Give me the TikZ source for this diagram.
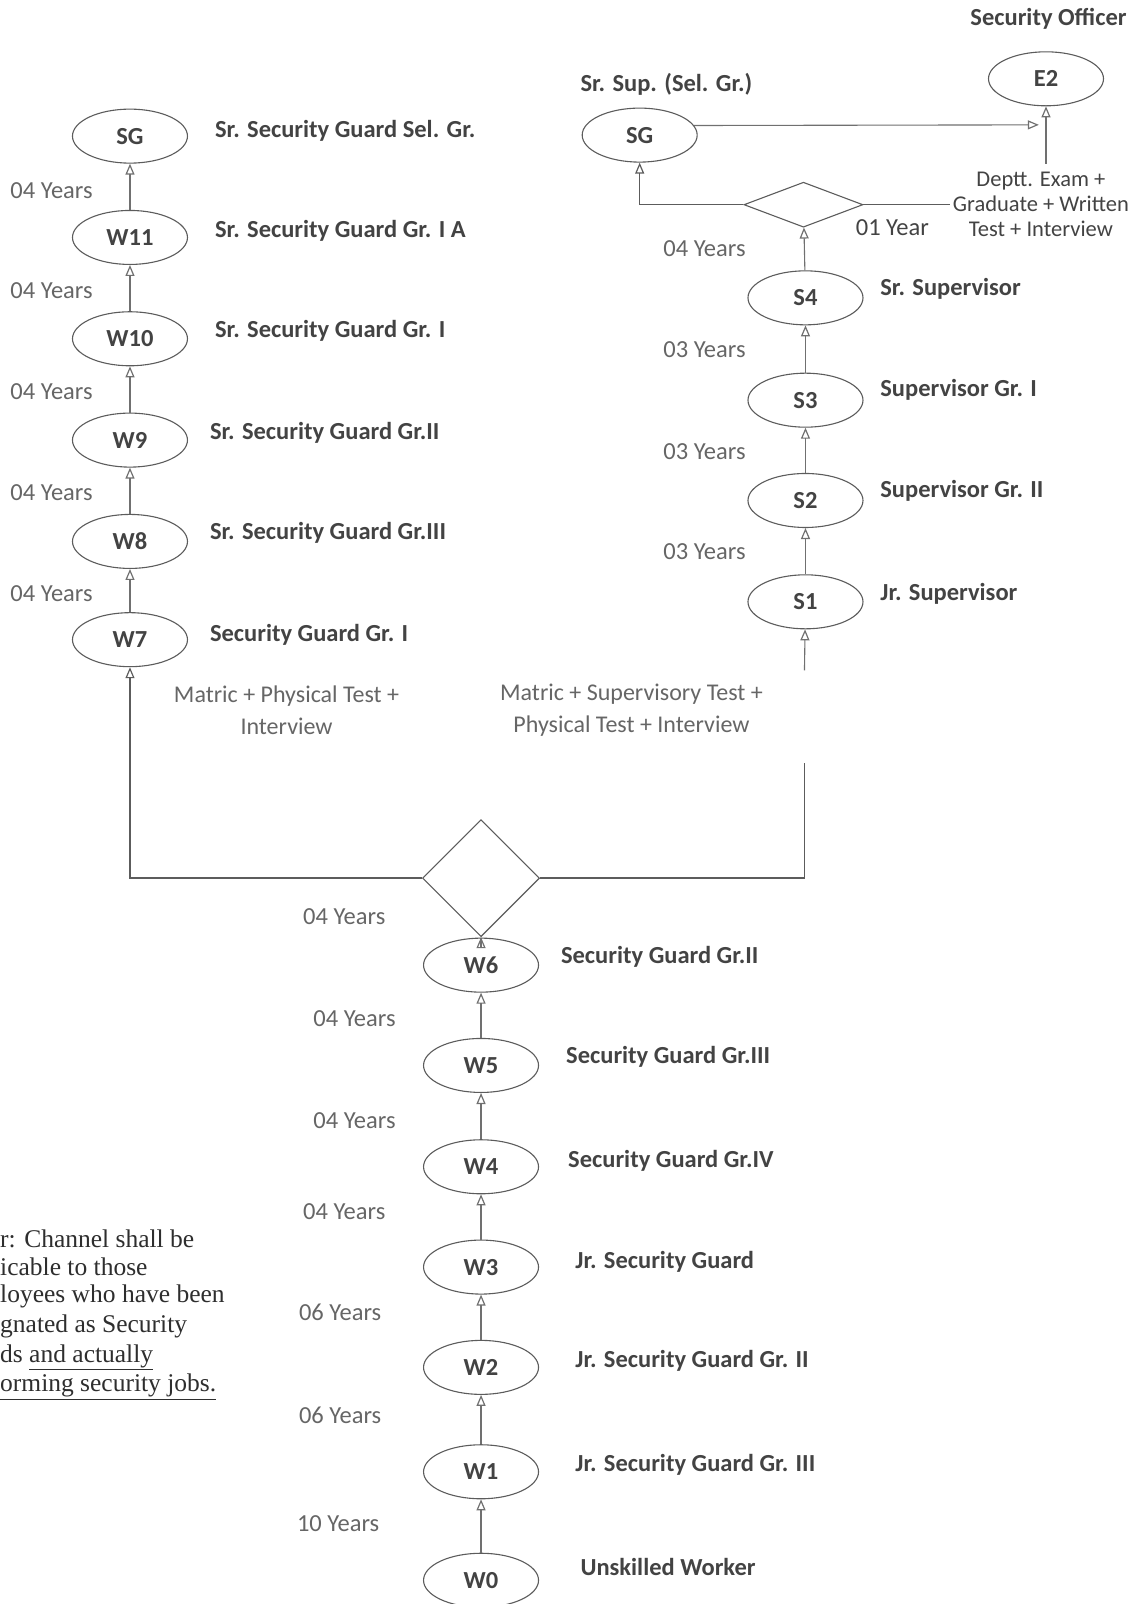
\documentclass[tikz,border=0pt]{standalone}
\usepackage{fontspec}
\setmainfont{Carlito}
\newfontfamily\notefont{Liberation Serif}
\usetikzlibrary{shapes.geometric,arrows.meta}
\definecolor{lab}{HTML}{434343}
\definecolor{yrs}{HTML}{666666}
\definecolor{lin}{HTML}{707070}
\definecolor{edge}{HTML}{5C5C5C}
\definecolor{notec}{HTML}{2E2E2E}
\begin{document}
\begin{tikzpicture}[x=1.0235pt,y=-1.0235pt,
  stage/.style={ellipse, draw=edge, line width=1.1pt, minimum width=115pt, minimum height=54pt, inner sep=0pt, font=\bfseries\fontsize{24.5}{27}\selectfont, text=lab},
  rank/.style={anchor=west, inner sep=0pt, font=\bfseries\fontsize{24.5}{28}\selectfont, text=lab},
  yrlab/.style={anchor=west, inner sep=0pt, font=\fontsize{24.5}{28}\selectfont, text=yrs},
  qual/.style={align=center, inner sep=0pt, font=\fontsize{24}{32}\selectfont, text=yrs},
  dmd/.style={diamond, draw=edge, line width=1.1pt, inner sep=0pt},
  tip/.style={-{Triangle[open,length=11pt,width=9pt,line width=1.2pt]}},
  conn/.style={draw=lin, line width=1.1pt, tip},
  plain/.style={draw=edge, line width=1.4pt},
  noteline/.style={anchor=west, inner sep=0pt, font=\notefont\fontsize{25.5}{30}\selectfont, text=notec}]
\path[use as bounding box, fill=white] (0,0) rectangle (1116.8,1567.2);

% ---------- left column ----------
\node[stage] (SGL) at (127,133) {SG};
\node[stage] (W11) at (127,232) {W11};
\node[stage] (W10) at (127,331) {W10};
\node[stage] (W9) at (127,430) {W9};
\node[stage] (W8) at (127,529) {W8};
\node[stage] (W7) at (127,625) {W7};

\node[rank] (tSGL) at (210,128) {Sr. Security Guard Sel. Gr.};
\node[rank] (tW11) at (210,226) {Sr. Security Guard Gr. I A};
\node[rank] (tW10) at (210,323) {Sr. Security Guard Gr. I};
\node[rank] (tW9) at (205,423) {Sr. Security Guard Gr.II};
\node[rank] (tW8) at (205,521) {Sr. Security Guard Gr.III};
\node[rank] (tW7) at (205,620) {Security Guard Gr. I};

\node[yrlab] (yL1) at (10,186) {04 Years};
\node[yrlab] (yL2) at (10,284) {04 Years};
\node[yrlab] (yL3) at (10,383) {04 Years};
\node[yrlab] (yL4) at (10,481) {04 Years};
\node[yrlab] (yL5) at (10,580) {04 Years};

\draw[conn] (W11) -- (SGL);
\draw[conn] (W10) -- (W11);
\draw[conn] (W9) -- (W10);
\draw[conn] (W8) -- (W9);
\draw[conn] (W7) -- (W8);

% ---------- right column ----------
\node[stage] (S4) at (787,291) {S4};
\node[stage] (S3) at (787,391) {S3};
\node[stage] (S2) at (787,489) {S2};
\node[stage] (S1) at (787,588) {S1};

\node[rank] (tS4) at (860,282) {Sr. Supervisor};
\node[rank] (tS3) at (860,381) {Supervisor Gr. I};
\node[rank] (tS2) at (860,480) {Supervisor Gr. II};
\node[rank] (tS1) at (860,580) {Jr. Supervisor};

\node[yrlab] (yR4) at (648,243) {04 Years};
\node[yrlab] (yR3) at (648,342) {03 Years};
\node[yrlab] (yR2) at (648,441) {03 Years};
\node[yrlab] (yR1) at (648,539) {03 Years};

\draw[conn] (S3) -- (S4);
\draw[conn] (S2) -- (S3);
\draw[conn] (S1) -- (S2);

% ---------- top ----------
\node[stage] (SGR) at (625,132) {SG};
\node[stage] (E2) at (1022,77) {E2};
\node[rank] (tSGR) at (567,82) {Sr. Sup. (Sel. Gr.)};
\node[rank] (tE2) at (948,18) {Security Officer};
\node[dmd, minimum width=119pt, minimum height=45pt] (D2) at (785,200) {};
\node[qual, anchor=north, font=\fontsize{22.5}{25}\selectfont, text=lab] (dept) at (1017,168) {Deptt. Exam +\\Graduate + Written\\Test + Interview};
\node[yrlab, text=lab] (y01) at (836,222) {01 Year};

\coordinate (eh) at (1015,122);
\coordinate (ev) at (1022,160);
\coordinate (dEnd) at (928,200);
\draw[conn] (S4) -- (D2);
\draw[plain, tip] (D2.west) -| (SGR.south);
\draw[plain] (D2.east) -- (dEnd);
\draw[conn] (SGR.10) -- (eh);
\draw[conn] (ev) -- (E2.south);

% ---------- junction ----------
\node[dmd, minimum width=117pt, minimum height=117pt] (D1) at (470,858) {};
\node[qual] (qL) at (280,694) {Matric + Physical Test +\\Interview};
\node[qual] (qR) at (617,694) {Matric + Supervisory Test +\\Physical Test + Interview};
\coordinate (rA) at (786,745);
\coordinate (rB) at (786,655);
\draw[plain, tip] (D1.west) -| (W7.south);
\draw[plain] (D1.east) -| (rA);
\draw[conn] (rB) -- (S1);

% ---------- bottom chain ----------
\node[stage] (W6) at (470,943) {W6};
\node[stage] (W5) at (470,1041) {W5};
\node[stage] (W4) at (470,1140) {W4};
\node[stage] (W3) at (470,1238) {W3};
\node[stage] (W2) at (470,1336) {W2};
\node[stage] (W1) at (470,1438) {W1};
\node[stage] (W0) at (470,1544) {W0};

\node[rank] (tW6) at (548,935) {Security Guard Gr.II};
\node[rank] (tW5) at (553,1033) {Security Guard Gr.III};
\node[rank] (tW4) at (555,1134) {Security Guard Gr.IV};
\node[rank] (tW3) at (562,1233) {Jr. Security Guard};
\node[rank] (tW2) at (562,1330) {Jr. Security Guard Gr. II};
\node[rank] (tW1) at (562,1431) {Jr. Security Guard Gr. III};
\node[rank] (tW0) at (567,1531) {Unskilled Worker};

\node[yrlab] (yB6) at (296,896) {04 Years};
\node[yrlab] (yB5) at (306,995) {04 Years};
\node[yrlab] (yB4) at (306,1095) {04 Years};
\node[yrlab] (yB3) at (296,1184) {04 Years};
\node[yrlab] (yB2) at (292,1282) {06 Years};
\node[yrlab] (yB1) at (292,1383) {06 Years};
\node[yrlab] (yB0) at (290,1489) {10 Years};

\draw[conn] (W6) -- (D1);
\draw[conn] (W5) -- (W6);
\draw[conn] (W4) -- (W5);
\draw[conn] (W3) -- (W4);
\draw[conn] (W2) -- (W3);
\draw[conn] (W1) -- (W2);
\draw[conn] (W0) -- (W1);

% ---------- note ----------
\node[noteline] (n1) at (0,1210) {r: Channel shall be};
\node[noteline] (n2) at (0,1238) {icable to those};
\node[noteline] (n3) at (0,1267) {loyees who have been};
\node[noteline] (n4) at (0,1296) {gnated as Security};
\node[noteline] (n5) at (0,1326) {ds \underline{and actually}};
\node[noteline] (n6) at (0,1355) {\underline{orming security jobs.}};
\end{tikzpicture}
\end{document}
